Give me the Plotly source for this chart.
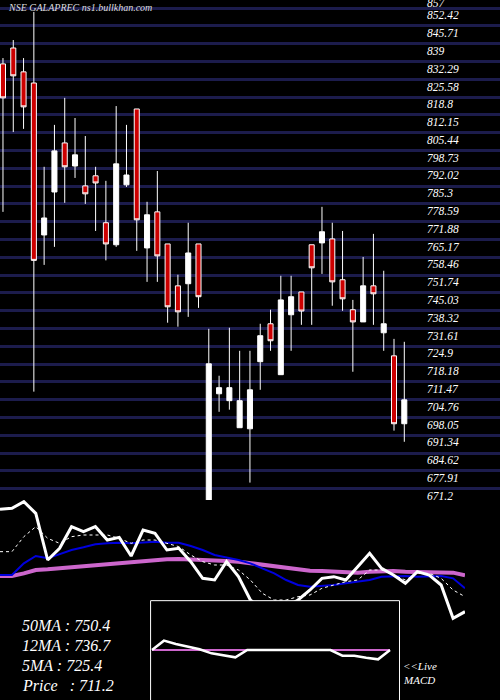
import plotly.graph_objects as go

# daily candles (prices)
opens = [834.1, 840.1, 831.1, 826.9, 769.6, 785.8, 804.3, 795.6, 788.1, 791.9,
         774.2, 765.9, 788.5, 817.1, 764.7, 778.3, 766.2, 750.4, 751.2, 766.2,
         667.2, 709.7, 707.1, 696.9, 696.5, 721.8, 736.1, 716.9, 739.5, 748.1,
         765.9, 766.6, 768.1, 752.7, 741.4, 736.8, 750.4, 732.7, 724.0, 698.4]
highs = [836.3, 843.1, 836.3, 853.7, 795.3, 811.1, 821.3, 813.7, 806.9, 795.3,
         790.0, 818.2, 811.1, 817.1, 782.1, 793.7, 766.2, 754.6, 774.2, 766.2,
         734.2, 716.5, 734.6, 725.9, 725.9, 736.1, 741.4, 754.2, 754.2, 748.1,
         765.9, 780.2, 774.2, 771.1, 745.1, 761.3, 770.0, 756.1, 730.4, 729.3]
lows = [778.3, 808.4, 809.6, 710.5, 758.3, 765.1, 781.7, 791.1, 781.3, 771.1,
        760.0, 765.1, 787.7, 763.6, 751.9, 751.9, 736.5, 735.0, 738.7, 742.1,
        667.2, 702.9, 703.7, 696.9, 676.2, 711.2, 725.9, 716.9, 725.9, 735.7,
        735.7, 754.9, 742.9, 741.0, 718.0, 736.8, 735.7, 725.9, 695.8, 691.6]
closes = [821.3, 829.6, 817.9, 760.0, 776.0, 801.3, 795.3, 799.8, 785.1, 789.2,
          766.2, 796.4, 792.2, 775.3, 777.2, 761.7, 742.5, 740.6, 762.8, 746.3,
          721.0, 712.0, 712.0, 707.1, 711.2, 731.6, 729.7, 745.1, 746.3, 740.9,
          757.2, 770.8, 751.9, 745.5, 736.8, 750.4, 747.4, 736.1, 698.4, 707.4]

price_labels = [857, 852.42, 845.71, 839, 832.29, 825.58, 818.8, 812.15, 805.44,
                798.73, 792.02, 785.3, 778.59, 771.88, 765.17, 758.46, 751.74,
                745.03, 738.32, 731.61, 724.9, 718.18, 711.47, 704.76, 698.05,
                691.34, 684.62, 677.91, 671.2]

# lower panel: moving averages (indicator scale)
price_line = [372, 375, 395, 360, 220, 255, 320, 305, 320, 280, 288, 232, 310, 300,
              250, 255, 215, 165, 160, 215, 170, 100, 70, 65, 80, 100, 130, 165,
              170, 160, 200, 240, 195, 175, 150, 185, 175, 145, 45, 65]
ma5 = [245, 245, 290, 320, 285, 270, 290, 295, 295, 295, 285, 270, 280, 280, 270,
       260, 235, 215, 205, 205, 190, 160, 120, 100, 100, 110, 115, 135, 145, 155,
       160, 190, 190, 175, 160, 180, 180, 165, 130, 110]
ma12 = [175, 175, 210, 232, 225, 238, 250, 258, 267, 270, 272, 270, 272, 275, 272,
        272, 262, 250, 235, 228, 220, 210, 195, 180, 160, 145, 140, 142, 145, 150,
        155, 160, 170, 172, 172, 170, 172, 172, 165, 135]
ma50 = [172, 172, 180, 190, 192, 195, 200, 203, 207, 210, 213, 215, 217, 220, 222,
        223, 222, 220, 218, 217, 215, 210, 205, 200, 195, 190, 188, 187, 185, 184,
        182, 185, 187, 187, 185, 184, 184, 184, 182, 174]
macd = [0, 2.8, 1.8, 1.0, 0.2, -1.0, -1.7, -2.2, 0, 0, 0, 0, 0, 0, 0, 0,
        -1.7, -1.7, -2.3, -2.8, 0]
signal = [0] * len(macd)

font = "Liberation Serif"
days = list(range(len(opens)))

fig = go.Figure()
fig.add_trace(go.Candlestick(
    x=days, open=opens, high=highs, low=lows, close=closes,
    increasing=dict(line=dict(color="white", width=1), fillcolor="white"),
    decreasing=dict(line=dict(color="white", width=1), fillcolor="#cc0000"),
    whiskerwidth=0, xaxis="x", yaxis="y", showlegend=False,
))

n = list(range(len(price_line)))
fig.add_trace(go.Scatter(x=n, y=ma50, xaxis="x2", yaxis="y2", mode="lines",
                         line=dict(color="#cc66cc", width=4)))
fig.add_trace(go.Scatter(x=n, y=ma12, xaxis="x2", yaxis="y2", mode="lines",
                         line=dict(color="#0000dd", width=2)))
fig.add_trace(go.Scatter(x=n, y=ma5, xaxis="x2", yaxis="y2", mode="lines",
                         line=dict(color="white", width=1, dash="dot")))
fig.add_trace(go.Scatter(x=n, y=price_line, xaxis="x2", yaxis="y2", mode="lines",
                         line=dict(color="white", width=3)))

# MACD box, drawn over the MA lines, in the MACD subplot
m = list(range(len(macd)))
fig.add_trace(go.Scatter(x=[-0.12, 20.8, 20.8, -0.12, -0.12],
                         y=[-16, -16, 14.8, 14.8, -16], xaxis="x3",
                         yaxis="y3", mode="lines", fill="toself",
                         fillcolor="black", line=dict(color="white", width=1)))
fig.add_trace(go.Scatter(x=m, y=signal, xaxis="x3", yaxis="y3", mode="lines",
                         line=dict(color="#cc66cc", width=2)))
fig.add_trace(go.Scatter(x=m, y=macd, xaxis="x3", yaxis="y3", mode="lines",
                         line=dict(color="white", width=2.5)))

for v in price_labels:
    fig.add_annotation(x=0.85, y=v, xref="paper", yref="y", text=str(v),
                       showarrow=False, xanchor="left", yanchor="middle",
                       font=dict(family=font, size=11.5, color="white", style="italic"))

fig.add_annotation(x=0.012, y=0.989, xref="paper", yref="paper",
                   text="NSE GALAPREC ns1.bullkhan.com", showarrow=False,
                   xanchor="left", yanchor="middle",
                   font=dict(family=font, size=10, color="#dddddd", style="italic"))
for i, t in enumerate(["50MA : 750.4", "12MA : 736.7", "5MA : 725.4", "Price   : 711.2"]):
    fig.add_annotation(x=0.04, y=(75 - 20 * i) / 700, xref="paper", yref="paper",
                       text=t, showarrow=False, xanchor="left", yanchor="middle",
                       font=dict(family=font, size=16, color="white", style="italic"))
for i, t in enumerate(["<<Live", "MACD"]):
    fig.add_annotation(x=0.802, y=(34 - 14 * i) / 700, xref="paper", yref="paper",
                       text=t, showarrow=False, xanchor="left", yanchor="middle",
                       font=dict(family=font, size=11, color="white", style="italic"))

grid = [v + 2.7 for v in price_labels]
fig.update_layout(
    width=500, height=700, margin=dict(l=0, r=0, t=0, b=0),
    paper_bgcolor="black", plot_bgcolor="black", showlegend=False,
    xaxis=dict(domain=[0, 1], range=[-0.29, 48.3], visible=False,
               rangeslider=dict(visible=False)),
    yaxis=dict(domain=[1 - 507 / 700, 1], range=[667, 858.2], tickvals=grid,
               showticklabels=False, gridcolor="#1c1c4c", gridwidth=3,
               zeroline=False),
    xaxis2=dict(domain=[0, 0.93], range=[0, 39], visible=False, anchor="y2"),
    yaxis2=dict(domain=[0, 200 / 700], range=[-200, 400], visible=False,
                anchor="x2"),
    xaxis3=dict(domain=[0.3, 0.8], range=[-0.17, 20.84], visible=False,
                anchor="y3"),
    yaxis3=dict(domain=[0, 100 / 700], range=[-15, 15], visible=False,
                anchor="x3"),
)

fig.write_html("out.html", config={"displayModeBar": False},
               post_script="document.body.style.margin='0';")
